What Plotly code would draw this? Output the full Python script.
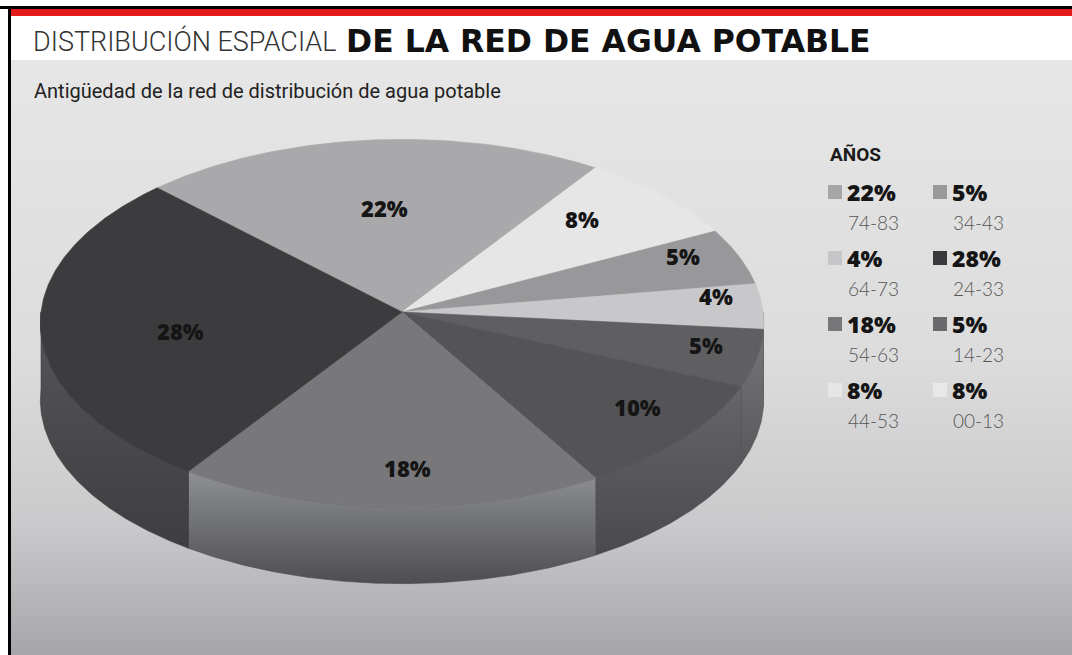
import math
import plotly.graph_objects as go

# ---------------- data ----------------
slice_values = [22, 8, 5, 4, 5, 10, 18, 28]          # clockwise from the top
slice_top_colors = ["#a9a9ab", "#e6e6e6", "#98989b", "#c8c8ca",
                    "#5f5f62", "#545457", "#78787b", "#3c3c3e"]
slice_side_colors = [("#a9a9ab", "#8a8a8c"), ("#e6e6e6", "#c0c0c0"),
                     ("#98989b", "#78787a"), ("#8e8e90", "#6e6e70"),
                     ("#77777a", "#58585b"), ("#66666a", "#4a4a4d"),
                     ("#8e9093", "#4e4e52"), ("#56565a", "#3e3e40")]

legend_pct = ["22%", "4%", "18%", "8%", "5%", "28%", "5%", "8%"]
legend_years = ["74-83", "64-73", "54-63", "44-53", "34-43", "24-33", "14-23", "00-13"]
legend_colors = ["#a6a6a8", "#c6c6c8", "#77777a", "#e6e6e6",
                 "#9a9a9c", "#3a3a3c", "#6a6a6c", "#e8e8e8"]

title_light = "DISTRIBUCIÓN ESPACIAL"
title_bold = "DE LA RED DE AGUA POTABLE"
subtitle = "Antigüedad de la red de distribución de agua potable"
legend_title = "AÑOS"

# ---------------- layout / styling ----------------
label_radius = [0.56, 0.68, 0.82, 0.87, 0.87, 0.87, 0.86, 0.62]
label_offset = [(1, -5), (1, -13), (4, -10), (1, -11), (-4, -7), (-9, -14), (16, -10), (2, 8)]

W, H = 1072, 655
cx, cy = 402, 312
rx, ry = 361, 183
k = 0.06          # perspective factor
depth = 77
start_deg = 135


def proj(theta_deg, f=1.0, drop=0.0):
    t = math.radians(theta_deg)
    u = f * math.cos(t)
    v = -f * math.sin(t)
    s = 1.0 / (1.0 - k * v)
    return cx + rx * u * s, cy + ry * v * s + drop


def arc(a, b, drop=0.0):
    n = max(4, int(abs(a - b) * 2))
    pts = [proj(a + (b - a) * i / n, 1.0, drop) for i in range(n + 1)]
    return [p[0] for p in pts], [p[1] for p in pts]


fig = go.Figure()

# background gradient panel
fig.add_trace(go.Scatter(
    x=[11, W, W, 11, 11], y=[60, 60, H, H, 60], mode="lines",
    fill="toself", line=dict(width=0), hoverinfo="skip", showlegend=False,
    fillgradient=dict(type="vertical", start=60, stop=H,
                      colorscale=[[0, "#e6e6e6"], [0.5, "#dcdcdd"],
                                  [0.78, "#cacacc"], [1, "#a6a6aa"]]),
))

# slice angles
total = sum(slice_values)
bounds = []
acc = 0
for v in slice_values:
    a = start_deg - 360 * acc / total
    acc += v
    b = start_deg - 360 * acc / total
    bounds.append((a, b))

# side walls (front half only: angles between -180 and 0)
for (a, b), (c0, c1) in zip(bounds, slice_side_colors):
    for shift in (0, -360, 360):
        hi, lo = a + shift, b + shift
        s_hi, s_lo = min(hi, 0), max(lo, -180)
        if s_hi > s_lo:
            tx, ty = arc(s_hi, s_lo)
            bx, by = arc(s_lo, s_hi, depth)
            xs = tx + bx + [tx[0]]
            ys = ty + by + [ty[0]]
            fig.add_trace(go.Scatter(
                x=xs, y=ys, mode="lines", fill="toself",
                line=dict(width=0.6, color=c1), hoverinfo="skip", showlegend=False,
                fillgradient=dict(type="vertical", start=min(ty), stop=max(by),
                                  colorscale=[[0, c0], [1, c1]]),
            ))

# top faces
for (a, b), col in zip(bounds, slice_top_colors):
    ax, ay = arc(a, b)
    xs = [cx] + ax + [cx]
    ys = [cy] + ay + [cy]
    fig.add_trace(go.Scatter(
        x=xs, y=ys, mode="lines", fill="toself", fillcolor=col,
        line=dict(width=0.6, color=col), hoverinfo="skip", showlegend=False,
    ))

annotations = []
# slice labels
for (a, b), v, f, (dx, dy) in zip(bounds, slice_values, label_radius, label_offset):
    lx, ly = proj((a + b) / 2, f)
    annotations.append(dict(x=lx + dx, y=ly + dy, text=f"{v}%", showarrow=False,
                            font=dict(family="Open Sans", size=22, color="#151515", weight=800)))

# title / subtitle
annotations.append(dict(x=31, y=41, xanchor="left", yanchor="middle", showarrow=False,
                        text=title_light,
                        font=dict(family="Roboto", size=27, color="#333333", weight=300)))
annotations.append(dict(x=344, y=41, xanchor="left", yanchor="middle", showarrow=False,
                        text=title_bold,
                        font=dict(family="DejaVu Sans", size=31.5, color="#111111", weight=700)))
annotations.append(dict(x=32, y=91, xanchor="left", yanchor="middle", showarrow=False,
                        text=subtitle,
                        font=dict(family="Roboto", size=20, color="#222222")))
annotations.append(dict(x=828, y=154, xanchor="left", yanchor="middle", showarrow=False,
                        text=legend_title,
                        font=dict(family="Roboto", size=19, color="#1a1a1a", weight=700)))

# legend
sw_x, sw_y = [], []
for i, (p, yr) in enumerate(zip(legend_pct, legend_years)):
    col, row = divmod(i, 4)
    x0 = 835 + col * 105
    y0 = 192 + row * 66
    sw_x.append(x0)
    sw_y.append(y0)
    annotations.append(dict(x=x0 + 10, y=y0, xanchor="left", yanchor="middle", showarrow=False,
                            text=p, font=dict(family="Open Sans", size=23, color="#151515", weight=800)))
    annotations.append(dict(x=x0 + 11, y=y0 + 30, xanchor="left", yanchor="middle", showarrow=False,
                            text=yr, font=dict(family="Lato", size=19, color="#555555", weight=300)))
fig.add_trace(go.Scatter(x=sw_x, y=sw_y, mode="markers", hoverinfo="skip", showlegend=False,
                         marker=dict(symbol="square", size=14, color=legend_colors, line=dict(width=0))))

shapes = [
    dict(type="rect", xref="x", yref="y", x0=0, x1=W, y0=6, y1=9,
         fillcolor="#000000", line=dict(width=0), layer="above"),
    dict(type="rect", xref="x", yref="y", x0=11, x1=W, y0=9, y1=16,
         fillcolor="#e31b1b", line=dict(width=0), layer="above"),
    dict(type="rect", xref="x", yref="y", x0=8, x1=11, y0=6, y1=H,
         fillcolor="#000000", line=dict(width=0), layer="above"),
]

fig.update_layout(
    width=W, height=H, margin=dict(l=0, r=0, t=0, b=0),
    paper_bgcolor="#ffffff", plot_bgcolor="#ffffff",
    xaxis=dict(range=[0, W], visible=False, fixedrange=True),
    yaxis=dict(range=[H, 0], visible=False, fixedrange=True),
    annotations=annotations, shapes=shapes, showlegend=False,
)

fig.write_html("out.html")
